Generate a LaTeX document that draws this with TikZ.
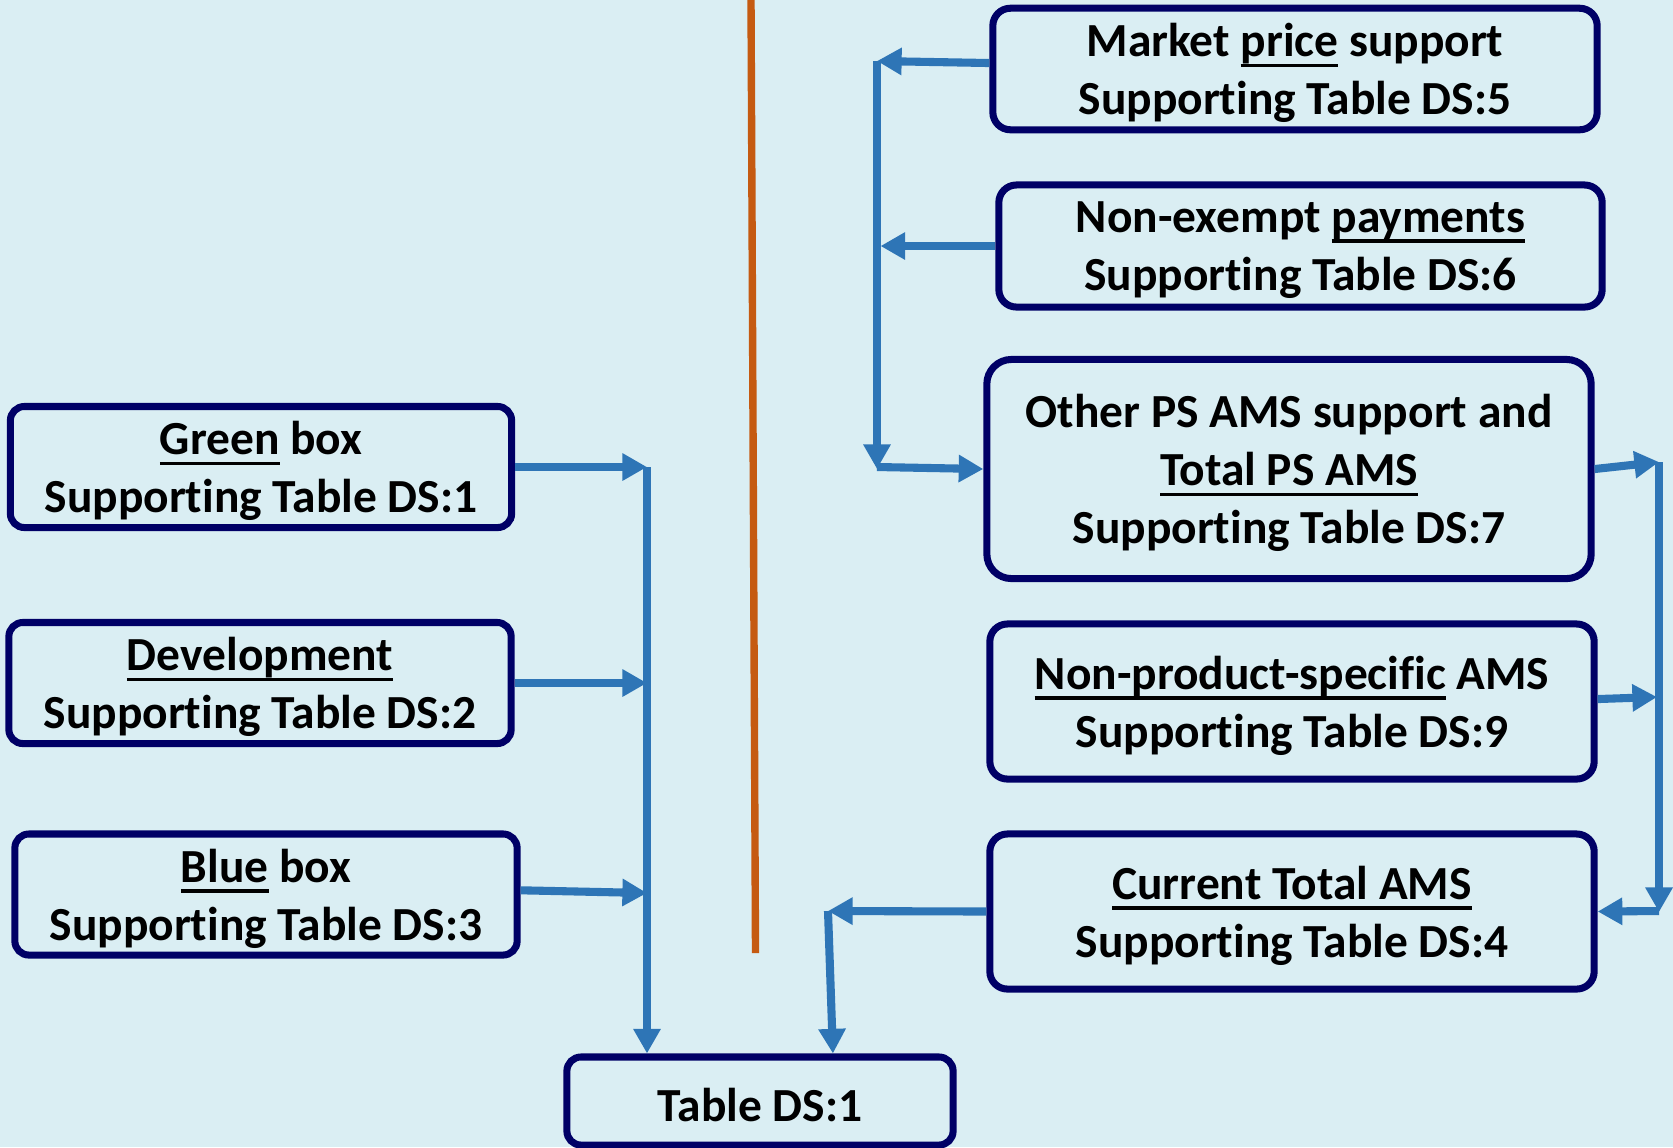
\documentclass[tikz,border=0pt]{standalone}
\usepackage{fontspec}
\setmainfont{Carlito}[Ligatures=NoCommon]
\usetikzlibrary{arrows.meta}
\definecolor{bgc}{HTML}{DAEEF3}
\definecolor{navy}{HTML}{000066}
\definecolor{arrblue}{HTML}{2E75B6}
\definecolor{orng}{HTML}{C55A11}
\newcommand\myul[1]{\leavevmode\setbox0\hbox{#1}\rlap{\rule[-2.9pt]{\wd0}{0.95pt}}\box0\relax}
\begin{document}
\begin{tikzpicture}[x=0.01cm,y=-0.01cm,
 box/.style={draw=navy, line width=2pt, rounded corners=4pt, fill=bgc, inner sep=0pt},
 txt/.style={align=center, inner sep=0pt, font=\bfseries\fontsize{13.5}{16.5}\selectfont, text=black},
 arr/.style={draw=arrblue, line width=2.3pt, -{Triangle[length=7pt,width=7.4pt]}}]
\fill[bgc] (0,0) rectangle (1673,1147);
\useasboundingbox (0,0) rectangle (1673,1147);
\draw[orng, line width=2.1pt] (751,0) -- (755.5,953);
% left boxes
\node[box, minimum width=5.01cm, minimum height=1.21cm] (green) at (261,467) {};
\node[box, minimum width=5.02cm, minimum height=1.21cm] (dev) at (260,683) {};
\node[box, minimum width=5.02cm, minimum height=1.21cm] (bluebox) at (266,894.5) {};
% bottom
\node[box, minimum width=3.86cm, minimum height=0.88cm] (table) at (760,1101) {};
% right boxes
\node[box, rounded corners=5pt, minimum width=6.04cm, minimum height=1.215cm] (market) at (1295,69) {};
\node[box, rounded corners=5pt, minimum width=6.03cm, minimum height=1.22cm] (nonex) at (1300.5,246) {};
\node[box, rounded corners=7pt, minimum width=6.04cm, minimum height=2.19cm] (otherps) at (1289,469) {};
\node[box, rounded corners=5pt, minimum width=6.04cm, minimum height=1.55cm] (nonprod) at (1292,701.5) {};
\node[box, rounded corners=5pt, minimum width=6.04cm, minimum height=1.55cm] (current) at (1292,911.5) {};
% texts
\node[txt] (tgreen) at ([yshift=-1.2pt]green.center) {\myul{Green} box\\Supporting Table DS:1};
\node[txt] (tdev) at ([yshift=-1.2pt]dev.center) {\myul{Development}\\Supporting Table DS:2};
\node[txt] (tblue) at ([yshift=-1.2pt]bluebox.center) {\myul{Blue} box\\Supporting Table DS:3};
\node[txt] (ttable) at ([yshift=-1.0pt]table.center) {Table DS:1};
\node[txt] (tmarket) at ([yshift=-1.2pt]market.center) {Market \myul{price} support\\Supporting Table DS:5};
\node[txt] (tnonex) at ([yshift=-1.2pt]nonex.center) {Non-exempt \myul{payments}\\Supporting Table DS:6};
\node[txt] (tother) at ([yshift=-1.2pt]otherps.center) {Other PS AMS support and\\\myul{Total PS AMS}\\Supporting Table DS:7};
\node[txt] (tnonprod) at ([yshift=-1.2pt]nonprod.center) {\myul{Non-product-specific} AMS\\Supporting Table DS:9};
\node[txt] (tcurrent) at ([yshift=-1.2pt]current.center) {\myul{Current Total AMS}\\Supporting Table DS:4};
% coordinates
\coordinate (lb) at (647,467);
\coordinate (mb) at (877,61);
\coordinate (mbot) at (877,469);
\coordinate (rb) at (1659,462);
\coordinate (rnp) at (1657,697);
\coordinate (rbot) at (1659,912);
\coordinate (c1) at (828,911);
% left bus
\draw[arr] (green.east) -- (lb);
\draw[arr] (dev.east) -- (dev.east -| lb);
\draw[arr] ([yshift=1.2pt]bluebox.east) -- (647,893);
\draw[arr] (lb) -- (lb |- table.north);
% right-left bus
\draw[arr] ([yshift=1.7pt]market.west) -- (mb);
\draw[arr] (nonex.west) -- ([xshift=1pt]nonex.west -| mb);
\draw[arr] (mb) -- (mbot);
\draw[arr] (877,467) -- (otherps.west);
% right bus
\draw[arr] (otherps.east) -- (rb);
\draw[arr] ([yshift=0.7pt]nonprod.east) -- (rnp);
\draw[arr] (rb) -- (rbot);
\draw[arr] (1659,911) -- (current.east);
% current to table
\draw[arr] (current.west) -- (c1);
\draw[arr] (c1) -- ([xshift=1.4pt]c1 |- table.north);
\end{tikzpicture}
\end{document}
